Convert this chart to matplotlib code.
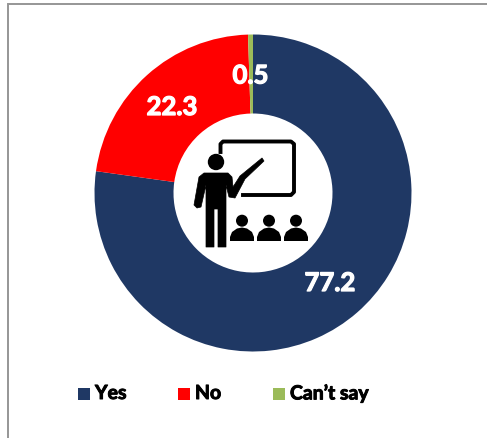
import matplotlib.pyplot as plt
import matplotlib.patheffects as pe
from matplotlib.patches import Circle, Polygon, Rectangle

categories = ["Yes", "No", "Can’t say"]
values = [77.2, 22.3, 0.5]
colors = ["#1F3864", "#FF0000", "#9BBB59"]

W, H = 487, 439
plt.rcParams['font.family'] = ['Lato', 'DejaVu Sans']

fig = plt.figure(figsize=(W / 100, H / 100), dpi=100)
ax = fig.add_axes([0, 0, 1, 1])


def flip(y):
    return H - y


# Donut
ax.pie(values, colors=colors, startangle=90, counterclock=False,
       center=(253, flip(194)), radius=158.5,
       wedgeprops=dict(width=79, linewidth=0))
ax.set_xlim(0, W)
ax.set_ylim(0, H)
ax.set_aspect('equal')
ax.axis('off')

# Value labels, thickened a little with a stroke
label_pos = [(330, 284), (172, 108), (250.5, 76.5)]
for val, (x, y) in zip(values, label_pos):
    ax.text(x, flip(y), str(val), color='white', fontsize=18.5, fontweight='bold',
            ha='center', va='center',
            path_effects=[pe.withStroke(linewidth=0.9, foreground='white')])

# Outer frame
ax.plot([8, 8, W], [0, flip(5), flip(5)], color='#969696', lw=1.4,
        solid_joinstyle='miter')

# Board
ax.plot([220.5, 220.5, 223, 291, 294, 294, 291, 243],
        [flip(153), flip(145), flip(142.5), flip(142.5), flip(145), flip(193), flip(196), flip(196)],
        color='black', lw=2.8, solid_joinstyle='round')

# Teacher
ax.add_patch(Circle((216, flip(163)), 8.2, color='black', lw=0))
body = [(204, 174), (228, 174), (232, 178), (233, 188), (240, 177), (262, 159), (264, 162),
        (245, 180), (235, 199), (229, 198), (226, 186), (226, 248), (218, 248), (218, 210),
        (214, 210), (214, 248), (206, 248), (206, 186), (201, 208), (197, 209), (194, 206),
        (199, 178)]
ax.add_patch(Polygon([(x, flip(y)) for x, y in body], closed=True, fc='black', ec='black',
                     lw=0.5, joinstyle='round'))

# Students
dome = [(-12, 242), (-12, 238), (-10, 233), (-5, 229.5), (0, 228.5), (5, 229.5), (10, 233),
        (12, 238), (12, 242)]
for cx in (242, 269, 296):
    ax.add_patch(Circle((cx, flip(221.7)), 6, color='black', lw=0))
    ax.add_patch(Polygon([(cx + dx, flip(y)) for dx, y in dome], closed=True, color='black', lw=0))

# Legend
legend_x = [78, 178, 273]
for name, col, x in zip(categories, colors, legend_x):
    ax.add_patch(Rectangle((x, flip(401)), 12, 12, color=col, lw=0))
    ax.text(x + 17, flip(394.5), name, color='black', fontsize=14, fontweight='bold',
            ha='left', va='center',
            path_effects=[pe.withStroke(linewidth=0.7, foreground='black')])

plt.savefig("out.png", dpi=100)
